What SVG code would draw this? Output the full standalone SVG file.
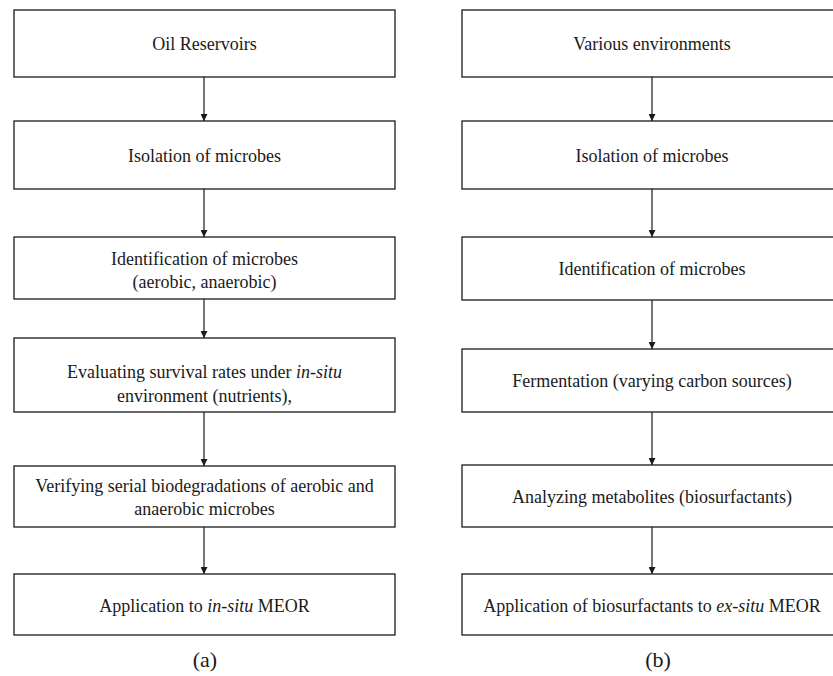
<svg xmlns="http://www.w3.org/2000/svg" width="833" height="676" viewBox="0 0 833 676">
<defs>
<style>
.box{fill:#fff;stroke:#1a1a1a;stroke-width:1.3}
text{font-family:"Liberation Serif","Times New Roman",serif;font-size:18px;fill:#1a1a1a;text-anchor:middle}
.lbl{font-size:22px}
.conn line{stroke:#1a1a1a;stroke-width:1.2}
</style>
<marker id="ah" viewBox="0 0 10 10" refX="10" refY="5" markerWidth="7" markerHeight="7" markerUnits="userSpaceOnUse" orient="auto">
<path d="M0,0 L10,5 L0,10 z" fill="#1a1a1a"/>
</marker>
</defs>
<rect width="833" height="676" fill="#fff"/>
<g class="conn">
<line x1="204" y1="77" x2="204" y2="121" marker-end="url(#ah)"/>
<line x1="204" y1="189" x2="204" y2="237" marker-end="url(#ah)"/>
<line x1="204" y1="299" x2="204" y2="338" marker-end="url(#ah)"/>
<line x1="204" y1="412" x2="204" y2="466" marker-end="url(#ah)"/>
<line x1="204" y1="527" x2="204" y2="574" marker-end="url(#ah)"/>
<line x1="652" y1="77" x2="652" y2="121" marker-end="url(#ah)"/>
<line x1="652" y1="189" x2="652" y2="237" marker-end="url(#ah)"/>
<line x1="652" y1="300" x2="652" y2="349" marker-end="url(#ah)"/>
<line x1="652" y1="412" x2="652" y2="465" marker-end="url(#ah)"/>
<line x1="652" y1="527" x2="652" y2="574" marker-end="url(#ah)"/>
</g>
<g id="a1"><rect class="box" x="14" y="10" width="381" height="67"/><text x="204.5" y="50">Oil Reservoirs</text></g>
<g id="a2"><rect class="box" x="14" y="121" width="381" height="68"/><text x="204.5" y="162">Isolation of microbes</text></g>
<g id="a3"><rect class="box" x="14" y="237" width="381" height="62"/><text x="204.5" y="265">Identification of microbes</text><text x="204.5" y="288">(aerobic, anaerobic)</text></g>
<g id="a4"><rect class="box" x="14" y="338" width="381" height="74"/><text x="204.5" y="378">Evaluating survival rates under <tspan font-style="italic">in-situ</tspan></text><text x="204.5" y="402">environment (nutrients),</text></g>
<g id="a5"><rect class="box" x="14" y="466" width="381" height="61"/><text x="204.5" y="492">Verifying serial biodegradations of aerobic and</text><text x="204.5" y="515">anaerobic microbes</text></g>
<g id="a6"><rect class="box" x="14" y="574" width="381" height="61"/><text x="204.5" y="612">Application to <tspan font-style="italic">in-situ</tspan> MEOR</text></g>
<g id="b1"><rect class="box" x="462" y="10" width="380" height="67"/><text x="652" y="50">Various environments</text></g>
<g id="b2"><rect class="box" x="462" y="121" width="380" height="68"/><text x="652" y="162">Isolation of microbes</text></g>
<g id="b3"><rect class="box" x="462" y="237" width="380" height="63"/><text x="652" y="275">Identification of microbes</text></g>
<g id="b4"><rect class="box" x="462" y="349" width="380" height="63"/><text x="652" y="387">Fermentation (varying carbon sources)</text></g>
<g id="b5"><rect class="box" x="462" y="465" width="380" height="62"/><text x="652" y="503">Analyzing metabolites (biosurfactants)</text></g>
<g id="b6"><rect class="box" x="462" y="574" width="380" height="61"/><text x="652" y="612">Application of biosurfactants to <tspan font-style="italic">ex-situ</tspan> MEOR</text></g>
<text class="lbl" x="205" y="667">(a)</text>
<text class="lbl" x="658" y="667">(b)</text>
</svg>
